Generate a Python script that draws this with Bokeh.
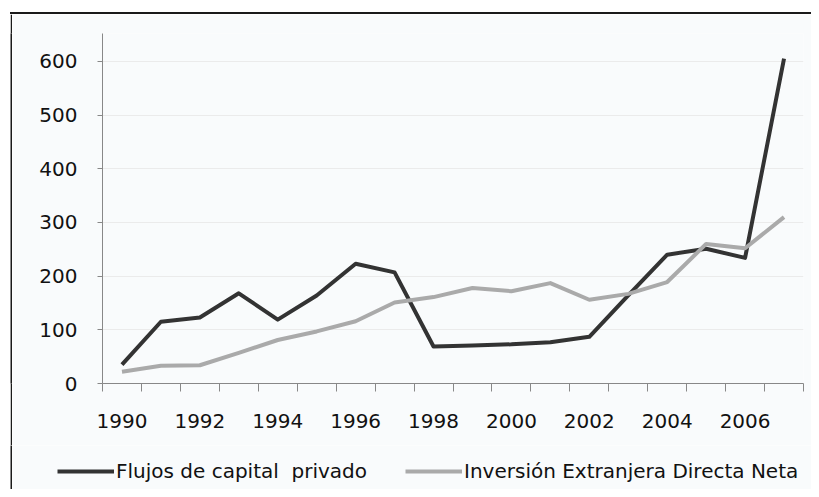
from bokeh.plotting import figure
from bokeh.models import FixedTicker, Legend, LegendItem, Spacer
from bokeh.layouts import column, row
from bokeh.embed import file_html
from bokeh.resources import INLINE

years = list(range(1990, 2008))
flujos = [35, 115, 123, 168, 119, 164, 223, 207, 69, 71, 73, 77, 87, 164, 240, 251, 234, 605]
ied = [22, 33, 34, 57, 81, 97, 116, 151, 161, 178, 172, 187, 156, 167, 189, 260, 252, 310]
label_years = [1990, 1992, 1994, 1996, 1998, 2000, 2002, 2004, 2006]
y_ticks = [0, 100, 200, 300, 400, 500, 600]
series_names = ["Flujos de capital  privado", "Inversión Extranjera Directa Neta"]
series_colors = ["#333333", "#aaaaaa"]

FONT = "DejaVu Sans"
BG = "#f9fbfc"
EDGE = "#1a1a1a"


def bar_fig(w, h):
    f = figure(width=w, height=h, output_backend="svg", toolbar_location=None,
               x_axis_type=None, y_axis_type=None, min_border=0,
               background_fill_color=EDGE, border_fill_color=EDGE)
    f.outline_line_color = None
    f.grid.visible = False
    return f


p = figure(width=799, height=431, output_backend="svg", toolbar_location=None,
           x_range=(years[0] - 0.5, years[-1] + 0.5), y_range=(0, 652),
           min_border_left=90, min_border_right=8, min_border_top=19, min_border_bottom=62,
           background_fill_color=BG, border_fill_color=BG)
p.outline_line_color = None

p.line(years, flujos, line_color=series_colors[0], line_width=4, line_join="round")
p.line(years, ied, line_color=series_colors[1], line_width=4, line_join="round")

# x axis
p.xaxis.ticker = FixedTicker(ticks=label_years,
                             minor_ticks=[y - 0.5 for y in years] + [years[-1] + 0.5])
p.xaxis.major_tick_out = 0
p.xaxis.major_tick_in = 0
p.xaxis.minor_tick_out = 8
p.xaxis.minor_tick_in = 0
p.xaxis.minor_tick_line_color = "#888888"
p.xaxis.axis_line_color = "#888888"
p.xaxis.major_label_standoff = 22
p.xaxis.major_label_text_font = FONT
p.xaxis.major_label_text_font_size = "20px"
p.xaxis.major_label_text_color = "#111111"
p.xgrid.grid_line_color = None

# y axis
p.yaxis.ticker = FixedTicker(ticks=y_ticks)
p.yaxis.major_tick_out = 5
p.yaxis.major_tick_in = 0
p.yaxis.minor_tick_line_color = None
p.yaxis.major_tick_line_color = "#888888"
p.yaxis.axis_line_color = "#888888"
p.yaxis.major_label_standoff = 20
p.yaxis.major_label_text_font = FONT
p.yaxis.major_label_text_font_size = "20px"
p.yaxis.major_label_text_color = "#111111"
p.ygrid.grid_line_color = "#ebebeb"
p.ygrid.grid_line_width = 1

# legend strip (its series lie outside its tiny ranges, only the legend shows)
lg = figure(width=799, height=44, output_backend="svg", toolbar_location=None,
            x_axis_type=None, y_axis_type=None, min_border=0,
            x_range=(0, 1), y_range=(0, 1),
            background_fill_color=BG, border_fill_color=BG)
lg.outline_line_color = None
lg.grid.visible = False
l1 = lg.line(years, flujos, line_color=series_colors[0], line_width=4)
l2 = lg.line(years, ied, line_color=series_colors[1], line_width=4)
legend = Legend(items=[LegendItem(label=series_names[0], renderers=[l1]),
                       LegendItem(label=series_names[1], renderers=[l2])],
                location=(45, 6), orientation="horizontal",
                glyph_width=57, label_standoff=2, spacing=38, padding=0, margin=0,
                border_line_color=None, background_fill_alpha=0,
                label_text_font=FONT, label_text_font_size="20px",
                label_text_color="#111111")
lg.add_layout(legend, "center")

top_line = Spacer(width=801, height=2, styles={"background-color": EDGE})

layout = column(
    Spacer(width=811, height=12),
    row(Spacer(width=10, height=433),
        column(top_line, row(bar_fig(2, 431), p))),
    row(Spacer(width=10, height=44), bar_fig(2, 44), lg),
)

open("out.html", "w").write(file_html(layout, INLINE))
